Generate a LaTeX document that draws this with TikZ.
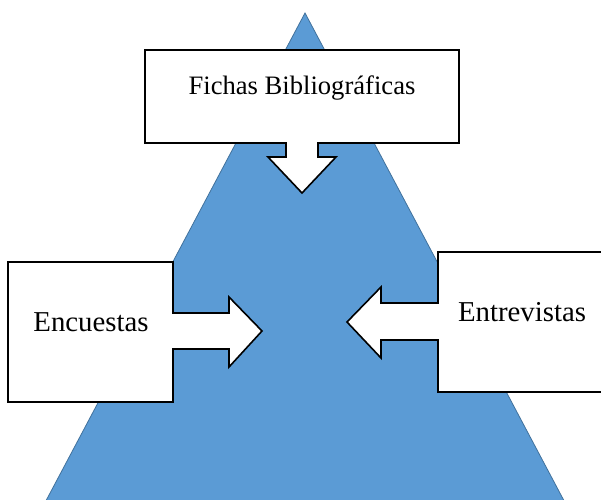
\documentclass[tikz,border=0pt]{standalone}
\usepackage{fontspec}
\setmainfont{Liberation Serif}
\definecolor{triblue}{HTML}{5B9BD5}
\definecolor{triedge}{HTML}{41719C}
\tikzset{
  callout/.style={draw=black, line width=1.6pt, fill=white, line join=miter},
  lbl/.style={inner sep=0pt, anchor=center},
}
\begin{document}
\begin{tikzpicture}[x=1pt,y=-1pt]
\useasboundingbox (0,0) rectangle (601,499);
\clip (0,0) rectangle (601,499);
% triangle
\fill[triblue, draw=triedge, line width=0.8pt] (305,13) -- (40,512) -- (570,512) -- cycle;
% top callout
\draw[callout] (145,50) -- (459,50) -- (459,143) -- (318,143) -- (318,157) -- (336,157)
  -- (302,193) -- (268,157) -- (286,157) -- (286,143) -- (145,143) -- cycle;
\node[lbl] (fichas) at (302,88) {\fontsize{26.6}{30}\selectfont Fichas Bibliográficas};
% left callout
\draw[callout] (8,262) -- (173,262) -- (173,313) -- (229,313) -- (229,297) -- (262,331)
  -- (229,367) -- (229,349) -- (173,349) -- (173,402) -- (8,402) -- cycle;
\node[lbl] (encuestas) at (91,322) {\fontsize{28.8}{32}\selectfont Encuestas};
% right callout
\draw[callout] (620,252) -- (438,252) -- (438,303) -- (381,303) -- (381,287) -- (347,322)
  -- (381,358) -- (381,340) -- (438,340) -- (438,392) -- (620,392) -- cycle;
\node[lbl] (entrevistas) at (522,312) {\fontsize{28.8}{32}\selectfont Entrevistas};
\end{tikzpicture}
\end{document}
